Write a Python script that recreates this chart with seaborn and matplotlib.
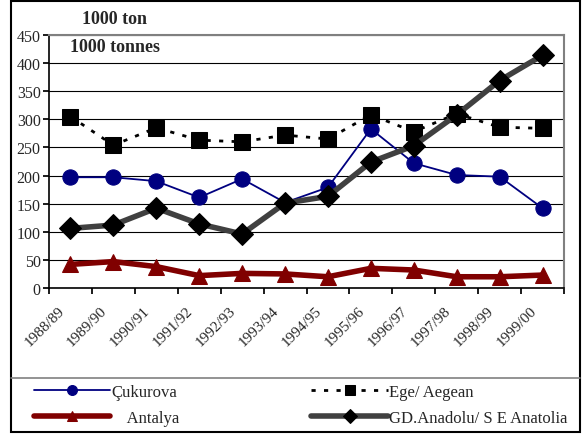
import numpy as np
import pandas as pd
import matplotlib
matplotlib.use("Agg")
import matplotlib.pyplot as plt
import matplotlib.transforms as mtransforms
import seaborn as sns
from matplotlib.patches import Rectangle
from matplotlib.lines import Line2D

# veriler (1000 ton)
seasons = ["1988/89", "1989/90", "1990/91", "1991/92", "1992/93", "1993/94",
           "1994/95", "1995/96", "1996/97", "1997/98", "1998/99", "1999/00"]
cukurova = [197, 197, 190, 161, 194, 152, 179, 283, 222, 201, 198, 142]
ege = [305, 254, 285, 263, 260, 272, 265, 308, 278, 310, 286, 284]
antalya = [42, 47, 38, 22, 26, 25, 20, 35, 32, 20, 20, 23]
gd_anadolu = [106, 112, 142, 114, 96, 151, 163, 224, 253, 308, 369, 414]

sns.set_theme(style="white")
plt.rcParams['font.family'] = ['Liberation Serif', 'DejaVu Serif']

fig = plt.figure(figsize=(5.84, 4.35), dpi=100)
ax = fig.add_axes([49/584, (435-289)/435, (564-49)/584, (289-36)/435])

idx = np.arange(len(seasons))

sns.lineplot(x=idx, y=cukurova, ax=ax, color="#000080", lw=1.3, marker="o",
             markersize=11, markeredgecolor="#000080", label="Çukurova")
sns.lineplot(x=idx, y=ege, ax=ax, color="black", lw=2, linestyle=(0, (1.5, 3)),
             marker="s", markersize=11, markeredgecolor="black", label="Ege/ Aegean")
sns.lineplot(x=idx, y=antalya, ax=ax, color="#800000", lw=4, marker="^",
             markersize=12, markeredgecolor="#800000", label="    Antalya")
sns.lineplot(x=idx, y=gd_anadolu, ax=ax, color="#404040", lw=4, marker="D",
             markersize=11, markerfacecolor="black", markeredgecolor="black",
             label="GD.Anadolu/ S E Anatolia")

ax.set_xlim(-0.5, len(seasons) - 0.5)
ax.set_ylim(0, 450)
ax.set_yticks(range(0, 451, 50))
ax.yaxis.grid(True, color="black", lw=0.8)
ax.set_axisbelow(True)
ax.tick_params(axis="y", labelsize=11.5, length=4, direction="out", left=True, pad=2, color="black")

ax.set_xticks(np.arange(-0.5, len(seasons), 1))
ax.set_xticklabels([])
ax.tick_params(axis="x", which="major", length=4, direction="out", bottom=True, color="black")
ax.set_xticks(idx, minor=True)
ax.set_xticklabels(seasons, minor=True, rotation=45, ha="right", va="top",
                   rotation_mode="anchor", fontsize=11)
ax.tick_params(axis="x", which="minor", length=0, pad=11)
shift = mtransforms.ScaledTranslation(-13/100, 0, fig.dpi_scale_trans)
for lab in ax.get_xticklabels(minor=True):
    lab.set_transform(lab.get_transform() + shift)

for s in ["top", "right"]:
    ax.spines[s].set_color("#808080")
    ax.spines[s].set_linewidth(1.5)
for s in ["left", "bottom"]:
    ax.spines[s].set_color("black")
    ax.spines[s].set_linewidth(1.2)

fig.text(115/584, 1 - 20/435, "1000 ton", fontsize=13, fontweight="bold", ha="center", va="center")
fig.text(115/584, 1 - 48/435, "1000 tonnes", fontsize=13, fontweight="bold", ha="center", va="center")

handles, labels = ax.get_legend_handles_labels()
order = [0, 2, 1, 3]
ax.get_legend().remove()
leg = fig.legend([handles[i] for i in order], [labels[i] for i in order],
                 ncol=2, loc="upper left", mode="expand",
                 bbox_to_anchor=(28/584, 2/435, (573-28)/584, 54/435),
                 frameon=False, handlelength=4.6, handletextpad=0.05, fontsize=12,
                 borderaxespad=0, borderpad=0.35, labelspacing=0.6,
                 markerscale=0.65)

# legend top line (gray) and outer frame
fig.lines.append(Line2D([11/584, 580/584], [1 - 379/435, 1 - 379/435], transform=fig.transFigure,
                        color="#808080", lw=1.2))
fig.patches.append(Rectangle((11/584, 2/435), 569/584, 431/435, transform=fig.transFigure,
                             fill=False, edgecolor="black", lw=1.5))

fig.savefig("out.png", dpi=100)
